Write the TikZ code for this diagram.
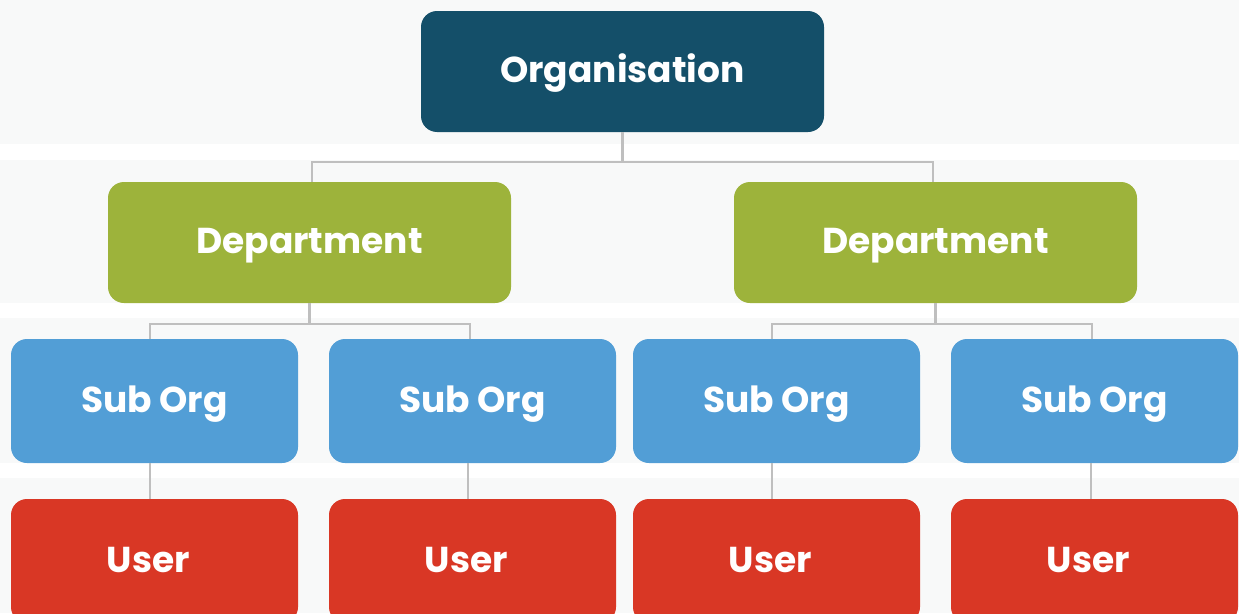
\documentclass[tikz,border=0pt]{standalone}
\usepackage{fontspec}
\setmainfont{Poppins}
\definecolor{bandc}{HTML}{F8F9F9}
\definecolor{orgc}{HTML}{144F69}
\definecolor{depc}{HTML}{9DB33B}
\definecolor{subc}{HTML}{529ED6}
\definecolor{userc}{HTML}{D93725}
\definecolor{linec}{HTML}{BFBFBF}
\tikzset{
  box/.style={rectangle, rounded corners=16pt, draw=none, text=white,
    font=\fontsize{36}{40}\selectfont\bfseries, text height=22pt, text depth=0pt,
    inner sep=0pt},
  orgbox/.style={box, fill=orgc, minimum width=403pt, minimum height=121pt},
  depbox/.style={box, fill=depc, minimum width=403pt, minimum height=121pt},
  subbox/.style={box, fill=subc, minimum width=287pt, minimum height=124pt},
  userbox/.style={box, fill=userc, minimum width=287pt, minimum height=124pt},
  conn/.style={draw=linec, line width=2.4pt},
  band/.style={fill=bandc, draw=none}
}
\begin{document}
\begin{tikzpicture}[x=1pt,y=-1pt]
\useasboundingbox (0,0) rectangle (1239,613);
\clip (0,0) rectangle (1239,613);
\fill[white] (0,0) rectangle (1239,613);
\path[band] (0,0) rectangle (1239,144);
\path[band] (0,160) rectangle (1239,303);
\path[band] (0,318) rectangle (1239,463);
\path[band] (0,478) rectangle (1239,613);

\node[orgbox] (org) at (622.5,71.5) {Organisation};
\node[depbox] (d1) at (309.5,242.5) {Department};
\node[depbox] (d2) at (935.5,242.5) {Department};
\node[subbox] (s1) at (154.5,401) {Sub Org};
\node[subbox] (s2) at (472.5,401) {Sub Org};
\node[subbox] (s3) at (776.5,401) {Sub Org};
\node[subbox] (s4) at (1094.5,401) {Sub Org};
\node[userbox] (u1) at (154.5,561) {User\hspace*{12pt}};
\node[userbox] (u2) at (472.5,561) {User\hspace*{12pt}};
\node[userbox] (u3) at (776.5,561) {User\hspace*{12pt}};
\node[userbox] (u4) at (1094.5,561) {User\hspace*{12pt}};

\coordinate (ob) at ([yshift=-30pt]org.south);
\coordinate (db1) at ([yshift=-21pt]d1.south);
\coordinate (db2) at ([yshift=-21pt]d2.south);
\draw[conn] (org.south) -- (ob);
\draw[conn] (ob) -| ([xshift=2.5pt]d1.north);
\draw[conn] (ob) -| ([xshift=-2.5pt]d2.north);
\draw[conn] (d1.south) -- (db1);
\draw[conn] (db1) -| ([xshift=-4.5pt]s1.north);
\draw[conn] (db1) -| ([xshift=-2.5pt]s2.north);
\draw[conn] (d2.south) -- (db2);
\draw[conn] (db2) -| ([xshift=-4.5pt]s3.north);
\draw[conn] (db2) -| ([xshift=-2.5pt]s4.north);
\draw[conn] ([xshift=-4.5pt]s1.south) -- ([xshift=-4.5pt]u1.north);
\draw[conn] ([xshift=-4.5pt]s2.south) -- ([xshift=-4.5pt]u2.north);
\draw[conn] ([xshift=-4.5pt]s3.south) -- ([xshift=-4.5pt]u3.north);
\draw[conn] ([xshift=-3.5pt]s4.south) -- ([xshift=-3.5pt]u4.north);
\end{tikzpicture}
\end{document}
